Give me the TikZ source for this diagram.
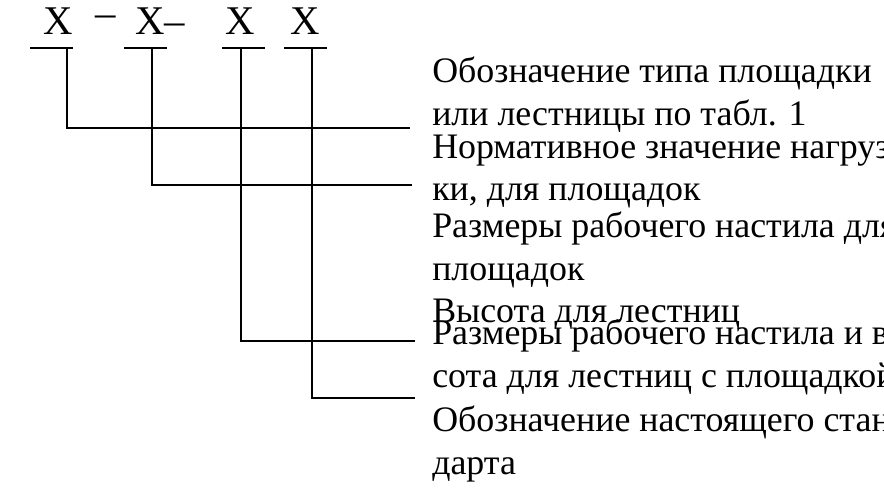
\documentclass[tikz,border=0pt]{standalone}
\usepackage{fontspec}
\setmainfont{Liberation Serif}
\usetikzlibrary{positioning}
\tikzset{
  code/.style={font=\fontsize{29}{30}\selectfont, inner sep=0pt},
  lbl/.style={font=\fontsize{25.5}{30}\selectfont, align=left, anchor=north west, inner sep=0pt},
  lead/.style={line width=1.4pt},
  bar/.style={line width=2pt}
}
\begin{document}
\begin{tikzpicture}[x=0.025cm,y=-0.025cm]
  \useasboundingbox (0,0) rectangle (884,492);
  %Code letters
  \node[code] (x1) at (58,21) {X};
  \node[code] (d1) at (106,21) {–};
  \node[code] (x2) at (160,21) {X–};
  \node[code] (x3) at (240,21) {X};
  \node[code] (x4) at (305,21) {X};
  %Underlines
  \foreach \l/\r [count=\i] in {30/73, 124/167, 222/265, 284/327}
    \draw[bar] (\l,48) -- (\r,48);
  %Texts
  \node[lbl] (t1) at (432,57) {Обозначение типа площадки\\или лестницы по табл. 1};
  \node[lbl] (t2) at (432,135) {Нормативное значение нагруз-\\ки, для площадок};
  \node[lbl] (t3) at (432,212) {Размеры рабочего настила для\\площадок\\Высота для лестниц};
  \node[lbl] (t4) at (432,319) {Размеры рабочего настила и вы-\\сота для лестниц с площадкой};
  \node[lbl] (t5) at (432,406) {Обозначение настоящего стан-\\дарта};
  %Leads
  \coordinate (e1) at (410,128);
  \coordinate (e2) at (412,185);
  \coordinate (e3) at (415,341);
  \coordinate (e4) at (415,398);
  \draw[lead] (67,48) |- (e1);
  \draw[lead] (152,48) |- (e2);
  \draw[lead] (241,48) |- (e3);
  \draw[lead] (312,48) |- (e4);
\end{tikzpicture}
\end{document}
